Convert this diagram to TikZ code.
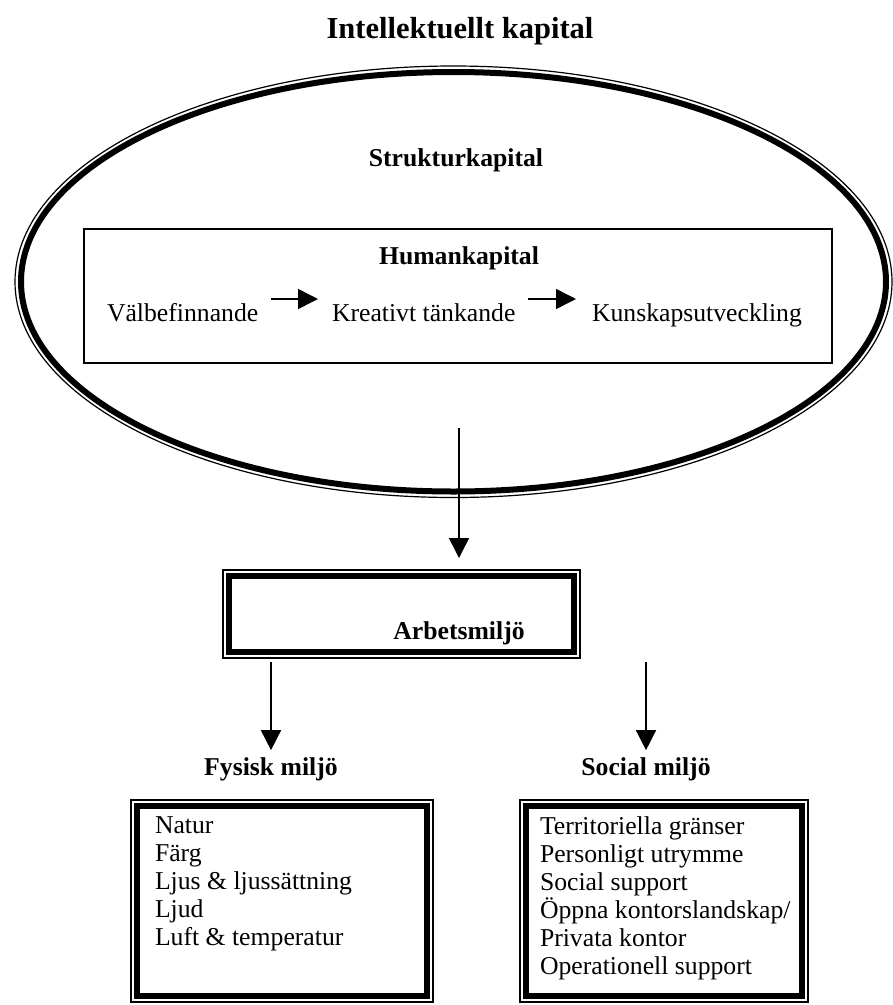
\documentclass[tikz,border=0pt]{standalone}
\usepackage{fontspec}
\setmainfont{Liberation Serif}
\usetikzlibrary{arrows.meta,shapes.geometric}
\tikzset{
  txt/.style={font=\fontsize{25.7}{28}\selectfont, inner sep=0pt, outer sep=0pt},
  hdr/.style={font=\fontsize{25.7}{28}\selectfont\bfseries, inner sep=0pt, outer sep=0pt},
  ttl/.style={font=\fontsize{30.5}{34}\selectfont\bfseries, inner sep=0pt, outer sep=0pt},
  thinline/.style={line width=1.2pt},
  heavyline/.style={line width=6pt},
  frame/.style={draw, thinline, inner sep=0pt, outer sep=0pt, anchor=north west},
  arr/.style={line width=1.5pt, -{Triangle[length=20pt,width=20pt]}},
  listtext/.style={txt, align=left, anchor=north west}
}
\begin{document}
\begin{tikzpicture}[x=1pt,y=-1pt]
\useasboundingbox (0,0) rectangle (893,1005);

% title
\node[ttl, anchor=base] (title) at (460,38) {Intellektuellt kapital};

% structural capital: thin outer ellipse with heavy inner ellipse
\node[draw, thinline, ellipse, inner sep=0pt, outer sep=0pt,
      minimum width=877pt, minimum height=431.5pt] (struct) at (453.5,281.75) {};
\draw[heavyline] (struct.center) ellipse [x radius=432.5pt, y radius=209.75pt];
\node[hdr, anchor=base] (structlbl) at (456,166) {Strukturkapital};

% human capital box
\node[frame, minimum width=748pt, minimum height=134pt] (hum) at (84,229) {};
\node[hdr, anchor=base] (humlbl) at (459,264) {Humankapital};
\node[txt, anchor=base west] (well) at (107,321) {Välbefinnande};
\node[txt, anchor=base west] (creat) at (332,321) {Kreativt tänkande};
\node[txt, anchor=base west] (know) at (592,321) {Kunskapsutveckling};
\draw[arr] ([shift={(13,-22)}]well.base east) -- ([shift={(-14,-22)}]creat.base west);
\draw[arr] ([shift={(13,-22)}]creat.base east) -- ([shift={(-16,-22)}]know.base west);

% work environment box
\node[frame, minimum width=357pt, minimum height=88pt] (arb) at (223,570) {};
\draw[heavyline] ([shift={(6,6)}]arb.north west) rectangle ([shift={(-6,-6)}]arb.south east);
\node[hdr, anchor=base] (arblbl) at (459,639) {Arbetsmiljö};

\coordinate (src) at (459,428);
\draw[arr, shorten >=12pt] (src) -- (src |- arb.north);

% physical and social environment
\node[hdr, anchor=base] (fys) at (271,775) {Fysisk miljö};
\node[hdr, anchor=base] (soc) at (646,775) {Social miljö};
\draw[arr, shorten <=4pt, shorten >=7pt] (arb.south -| fys) -- (fys.north);
\draw[arr, shorten <=4pt, shorten >=7pt] (arb.south -| soc) -- (soc.north);

\node[frame, minimum width=302pt, minimum height=202pt] (fysbox) at (131,800) {};
\draw[heavyline] ([shift={(6,6)}]fysbox.north west) rectangle ([shift={(-6,-6)}]fysbox.south east);
\node[frame, minimum width=288pt, minimum height=202pt] (socbox) at (520,800) {};
\draw[heavyline] ([shift={(6,6)}]socbox.north west) rectangle ([shift={(-6,-6)}]socbox.south east);

\node[listtext] (fyslist) at (155,817) {Natur\\Färg\\Ljus \& ljussättning\\Ljud\\Luft \& temperatur};
\node[listtext] (soclist) at (540,817) {Territoriella gränser\\Personligt utrymme\\Social support\\Öppna kontorslandskap/\\Privata kontor\\Operationell support};
\end{tikzpicture}
\end{document}
